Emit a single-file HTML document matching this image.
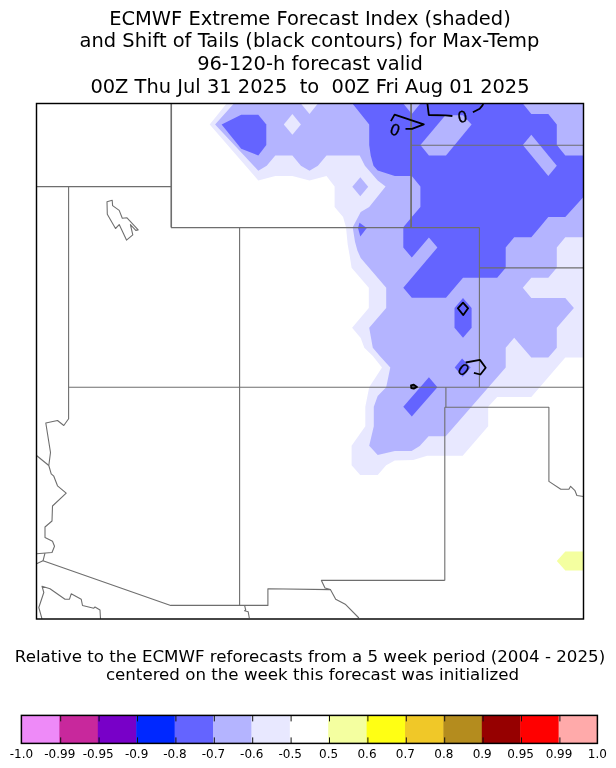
<!DOCTYPE html>
<html><head><meta charset="utf-8"><title>ECMWF Extreme Forecast Index</title>
<style>html,body{margin:0;padding:0;background:#fff}svg{display:block}text{font-family:"DejaVu Sans","Liberation Sans",sans-serif;fill:#000}</style></head>
<body><svg width="616" height="768" viewBox="0 0 616 768">
<rect width="616" height="768" fill="#fff"/>
<g id="title"><text x="310.0" y="25.0" text-anchor="middle" font-size="19.44" xml:space="preserve" style="white-space:pre">ECMWF Extreme Forecast Index (shaded)</text><text x="309.5" y="46.9" text-anchor="middle" font-size="19.44" xml:space="preserve" style="white-space:pre">and Shift of Tails (black contours) for Max-Temp</text><text x="310.0" y="70.0" text-anchor="middle" font-size="19.44" xml:space="preserve" style="white-space:pre">96-120-h forecast valid</text><text x="310.0" y="92.6" text-anchor="middle" font-size="19.44" xml:space="preserve" style="white-space:pre">00Z Thu Jul 31 2025  to  00Z Fri Aug 01 2025</text></g>
<defs><clipPath id="ax"><rect x="36.5" y="103.5" width="547" height="515.4"/></clipPath></defs>
<g clip-path="url(#ax)">
<g shape-rendering="geometricPrecision"><polygon fill="#e8e8ff" points="226.6,103.5 209.7,124.4 258.3,180.5 275.3,176.1 292.4,176.1 309.5,180.5 326.5,176.1 334.6,186.4 334.6,206.9 343.1,217.0 346.0,227.2 347.7,244.6 349.6,255.3 351.6,267.7 368.8,287.8 368.8,307.9 352.1,327.8 360.7,338.0 364.3,347.7 372.8,356.0 382.0,367.5 369.2,387.2 365.3,406.8 365.3,426.3 351.6,445.8 351.6,465.2 360.2,475.0 377.7,475.0 386.2,465.2 394.8,460.5 413.2,460.0 427.2,455.7 462.7,455.7 488.2,426.3 488.2,406.8 497.2,397.0 531.3,397.0 565.3,357.6 583.7,357.6 583.7,103.5"/>
<polygon fill="#b4b4ff" points="233.9,103.5 215.1,124.4 258.3,170.7 266.7,165.8 275.3,155.5 292.4,155.5 300.9,165.8 309.5,170.7 317.9,165.8 326.5,155.5 359.7,155.6 364.9,165.8 377.7,180.6 385.6,186.4 369.2,206.9 360.7,212.0 352.7,227.2 355.0,241.7 357.4,250.4 360.7,258.0 386.2,287.8 386.2,307.9 369.2,327.8 372.8,347.7 379.8,356.0 390.3,367.5 386.2,387.2 377.7,396.0 373.8,406.8 373.8,426.3 369.2,445.8 377.7,455.0 394.8,451.0 411.6,450.9 419.7,446.0 428.6,436.3 445.7,436.3 505.7,367.5 505.7,347.7 514.2,337.8 531.3,357.6 548.3,357.6 556.8,347.7 556.8,327.8 573.9,307.9 565.3,297.9 531.3,297.9 522.8,287.8 531.3,277.8 548.3,277.8 556.8,267.7 556.8,247.5 565.3,237.3 583.7,237.3 583.7,103.5"/>
<polygon fill="#b4b4ff" points="352.3,186.8 360.3,177.3 368.2,186.8 360.3,196.3"/>
<polygon fill="#e8e8ff" points="283.8,124.4 292.4,114.0 300.9,124.4 292.4,134.8"/>
<polygon fill="#e8e8ff" points="300.9,103.5 309.5,114.0 317.9,103.5"/>
<polygon fill="#6464ff" points="352.4,103.5 369.2,124.4 369.2,145.1 370.7,155.5 373.5,165.8 377.7,170.6 394.8,176.1 411.8,176.1 420.4,186.4 420.4,206.9 411.8,217.0 403.3,227.2 403.3,247.5 411.8,257.6 428.9,237.4 437.4,247.5 403.3,287.8 411.8,297.8 446.0,297.8 463.0,277.8 497.2,277.8 505.7,267.7 505.7,247.5 514.2,237.3 531.3,237.3 539.8,227.2 548.3,217.0 565.3,217.0 583.7,196.7 583.7,155.5 565.3,155.5 556.8,145.1 556.8,124.4 548.3,114.0 531.3,114.0 522.8,103.5"/>
<polygon fill="#b4b4ff" points="403.3,103.5 411.8,114.0 420.4,103.5"/>
<polygon fill="#b4b4ff" points="420.4,145.1 445.4,115.3 463.0,115.3 471.6,124.4 446.0,155.5 428.9,155.5"/>
<polygon fill="#b4b4ff" points="522.8,145.1 531.3,134.8 556.8,165.8 548.3,176.1"/>
<polygon fill="#6464ff" points="221.6,124.4 241.2,114.8 258.3,114.8 266.3,124.4 266.3,145.1 258.3,155.5 241.2,148.7"/>
<polygon fill="#6464ff" points="359.5,222.8 366.8,228.0 360.3,236.5 358.0,228.0"/>
<polygon fill="#6464ff" points="463.0,297.9 471.6,307.9 471.6,327.8 463.0,337.8 454.5,327.8 454.5,307.9"/>
<polygon fill="#6464ff" points="454.7,367.5 462.1,358.5 470.6,367.5 462.7,376.7"/>
<polygon fill="#6464ff" points="403.3,406.8 428.9,377.3 437.4,387.2 411.8,416.5"/>
<polygon fill="#f4ffa0" points="556.8,561.1 565.3,551.6 583.7,551.6 583.7,570.6 565.3,570.6"/></g>
<g fill="none" stroke="#6e6e6e" stroke-width="1.1" stroke-linejoin="round"><polyline points="36.5,186.6 171.0,186.6" />
<polyline points="171.0,103.5 171.0,227.6" />
<polyline points="171.5,103.5 171.5,227.6" />
<polyline points="171.0,227.6 479.4,227.6" />
<polyline points="68.6,186.6 68.6,418.8 63.8,425.5 57.5,420.5 45.8,423.0 50.5,452.5 48.8,465.5 51.2,473.8 53.8,476.2 57.5,485.8 66.2,493.2 52.5,506.0 52.0,521.0 45.0,527.0 45.0,537.5 52.5,541.2 54.5,546.2 52.0,552.5 36.5,553.8" />
<polyline points="36.5,455.5 48.8,465.5" />
<polyline points="45.0,553.2 43.0,560.8" />
<polyline points="36.5,563.8 43.0,560.8 170.7,605.4 267.9,605.4 267.9,588.8 330.4,589.6" />
<polyline points="239.6,227.6 239.6,605.4" />
<polyline points="68.6,387.3 583.5,387.3" />
<polyline points="479.4,227.6 479.4,387.3" />
<polyline points="479.4,267.9 583.5,267.9" />
<polyline points="410.8,103.5 410.8,227.6" />
<polyline points="411.4,103.5 411.4,227.6" />
<polyline points="410.8,145.3 583.5,145.3" />
<polyline points="445.9,387.3 445.9,407.2" />
<polyline points="444.8,407.2 444.8,580.4" />
<polyline points="444.8,407.2 548.9,407.2 548.9,481.4 560.8,489.2 568.9,489.2 570.6,486.3 575.0,490.7 576.9,495.5 583.5,496.5" />
<polyline points="444.8,580.4 321.4,580.4 325.0,587.9 330.4,589.6 335.7,599.3 345.7,604.6 358.9,618.0" />
<polyline points="244.6,605.4 245.7,610.0 244.6,610.7 248.2,611.8 249.3,618.0" />
<polyline points="42.0,618.8 38.8,607.5 43.8,592.5 42.0,586.2 50.0,588.8 65.0,599.2 69.5,599.2 71.2,593.8 81.2,599.2 82.5,605.5 93.8,608.2 95.0,607.0 100.0,610.0 100.5,618.8" />
<polygon points="107.0,201.7 112.2,200.2 112.6,205.6 119.2,210.4 122.3,218.2 127.0,217.8 138.2,229.9 135.8,230.4 130.4,224.6 132.8,234.8 126.5,240.1 119.2,224.6 115.5,228.5 107.3,214.3" stroke="#707070"/></g>
<g fill="none" stroke="#000" stroke-width="1.8" stroke-linejoin="round"><polyline points="405.5,128.8 412.0,128.8 423.8,124.3 394.6,114.6 390.9,121.1" />
<polyline points="427.4,103.5 428.8,115.0 445.6,115.3 452.4,116.0" />
<polyline points="472.9,112.2 479.7,108.8 482.5,105.4 483.3,103.5" />
<polyline points="465.7,362.5 479.9,359.9 485.7,367.7 480.4,374.5 473.9,372.9" />
<polygon points="463,302.6 468.1,308.3 463.3,315.1 457.8,308.3"/>
<polygon points="411.0,385.4 413.8,384.7 417.0,386.9 413.8,388.7 411.3,388.1" fill="#000" fill-opacity="0.55"/></g>
<g><text x="394.9" y="130.3" transform="rotate(20 394.9 130.3)" text-anchor="middle" dominant-baseline="central" font-size="15.5" stroke="#000" stroke-width="0.25">0</text><text x="462.6" y="117.1" transform="rotate(-10 462.6 117.1)" text-anchor="middle" dominant-baseline="central" font-size="15.5" stroke="#000" stroke-width="0.25">0</text><text x="463.3" y="370.2" transform="rotate(38 463.3 370.2)" text-anchor="middle" dominant-baseline="central" font-size="15.5" stroke="#000" stroke-width="0.25">0</text></g>
</g>
<rect x="36.5" y="103.5" width="547" height="515.5" fill="none" stroke="#000" stroke-width="1.45"/>
<g id="caption"><text x="310.0" y="661.8" text-anchor="middle" font-size="16.67">Relative to the ECMWF reforecasts from a 5 week period (2004 - 2025)</text><text x="312.5" y="680.0" text-anchor="middle" font-size="16.67">centered on the week this forecast was initialized</text></g>
<g id="colorbar"><rect x="21.40" y="715.40" width="38.90" height="28.00" fill="#ee8af8"/><rect x="59.40" y="715.40" width="38.90" height="28.00" fill="#c8289c"/><rect x="97.80" y="715.40" width="38.90" height="28.00" fill="#7800c8"/><rect x="136.20" y="715.40" width="38.90" height="28.00" fill="#0028ff"/><rect x="174.60" y="715.40" width="38.90" height="28.00" fill="#6464ff"/><rect x="213.00" y="715.40" width="38.90" height="28.00" fill="#b4b4ff"/><rect x="251.40" y="715.40" width="38.90" height="28.00" fill="#e8e8ff"/><rect x="289.80" y="715.40" width="38.90" height="28.00" fill="#ffffff"/><rect x="328.20" y="715.40" width="38.90" height="28.00" fill="#f4ffa0"/><rect x="366.60" y="715.40" width="38.90" height="28.00" fill="#ffff14"/><rect x="405.00" y="715.40" width="38.90" height="28.00" fill="#f0c828"/><rect x="443.40" y="715.40" width="38.90" height="28.00" fill="#b48c1e"/><rect x="481.80" y="715.40" width="38.90" height="28.00" fill="#960000"/><rect x="520.20" y="715.40" width="38.90" height="28.00" fill="#ff0000"/><rect x="558.60" y="715.40" width="38.90" height="28.00" fill="#ffaaaa"/><path d="M60.70 715.40v6M60.70 743.40v-6" stroke="#111" stroke-width="1.0"/><path d="M99.10 715.40v6M99.10 743.40v-6" stroke="#111" stroke-width="1.0"/><path d="M137.50 715.40v6M137.50 743.40v-6" stroke="#111" stroke-width="1.0"/><path d="M175.90 715.40v6M175.90 743.40v-6" stroke="#111" stroke-width="1.0"/><path d="M214.30 715.40v6M214.30 743.40v-6" stroke="#111" stroke-width="1.0"/><path d="M252.70 715.40v6M252.70 743.40v-6" stroke="#111" stroke-width="1.0"/><path d="M291.10 715.40v6M291.10 743.40v-6" stroke="#111" stroke-width="1.0"/><path d="M329.50 715.40v6M329.50 743.40v-6" stroke="#111" stroke-width="1.0"/><path d="M367.90 715.40v6M367.90 743.40v-6" stroke="#111" stroke-width="1.0"/><path d="M406.30 715.40v6M406.30 743.40v-6" stroke="#111" stroke-width="1.0"/><path d="M444.70 715.40v6M444.70 743.40v-6" stroke="#111" stroke-width="1.0"/><path d="M483.10 715.40v6M483.10 743.40v-6" stroke="#111" stroke-width="1.0"/><path d="M521.50 715.40v6M521.50 743.40v-6" stroke="#111" stroke-width="1.0"/><path d="M559.90 715.40v6M559.90 743.40v-6" stroke="#111" stroke-width="1.0"/><rect x="21.40" y="715.40" width="576.00" height="28.00" fill="none" stroke="#000" stroke-width="1.5"/><text x="21.40" y="757.5" text-anchor="middle" font-size="12">-1.0</text><text x="59.80" y="757.5" text-anchor="middle" font-size="12">-0.99</text><text x="98.20" y="757.5" text-anchor="middle" font-size="12">-0.95</text><text x="136.60" y="757.5" text-anchor="middle" font-size="12">-0.9</text><text x="175.00" y="757.5" text-anchor="middle" font-size="12">-0.8</text><text x="213.40" y="757.5" text-anchor="middle" font-size="12">-0.7</text><text x="251.80" y="757.5" text-anchor="middle" font-size="12">-0.6</text><text x="290.20" y="757.5" text-anchor="middle" font-size="12">-0.5</text><text x="328.60" y="757.5" text-anchor="middle" font-size="12">0.5</text><text x="367.00" y="757.5" text-anchor="middle" font-size="12">0.6</text><text x="405.40" y="757.5" text-anchor="middle" font-size="12">0.7</text><text x="443.80" y="757.5" text-anchor="middle" font-size="12">0.8</text><text x="482.20" y="757.5" text-anchor="middle" font-size="12">0.9</text><text x="520.60" y="757.5" text-anchor="middle" font-size="12">0.95</text><text x="559.00" y="757.5" text-anchor="middle" font-size="12">0.99</text><text x="597.40" y="757.5" text-anchor="middle" font-size="12">1.0</text></g>
</svg></body></html>
